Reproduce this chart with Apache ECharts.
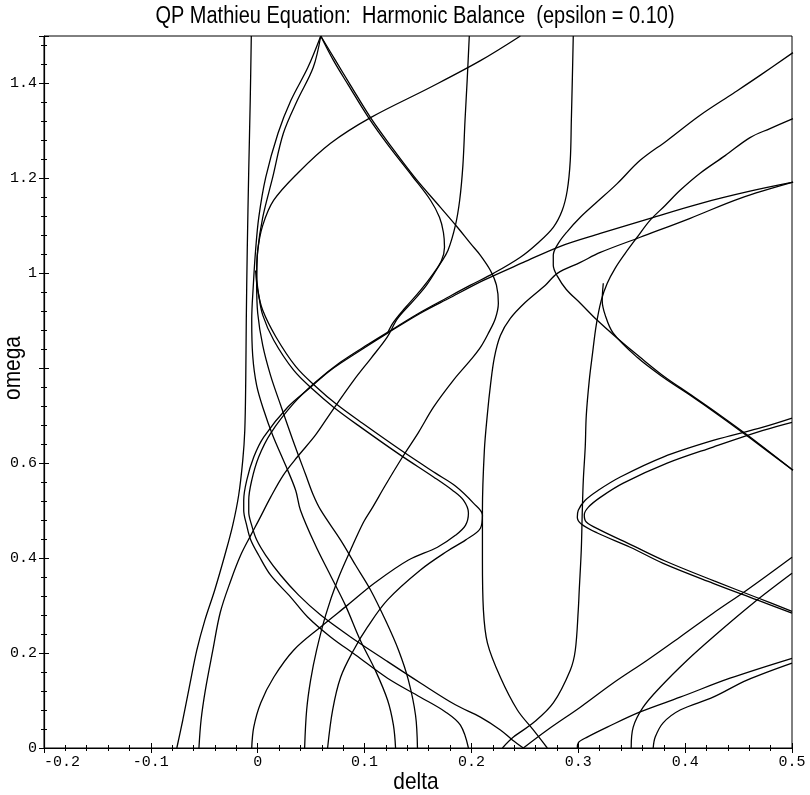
<!DOCTYPE html>
<html>
<head>
<meta charset="utf-8">
<title>QP Mathieu Equation: Harmonic Balance</title>
<script src="https://cdn.jsdelivr.net/npm/echarts/dist/echarts.min.js"></script>
<style>
  html, body { margin: 0; padding: 0; background: #fff; }
  #chart { width: 810px; height: 795px; }
</style>
</head>
<body>
<div id="chart"></div>
<script>
// Transition curves in the (delta, omega) plane, each as [delta, omega] pairs.
const deltaZeroBoundary = [[-0.006,1.5],[-0.007,1.364],[-0.0084,1.217],[-0.0098,1.048],[-0.0107,0.901],[-0.0112,0.775],[-0.0121,0.669],[-0.014,0.606],[-0.0178,0.533],[-0.0234,0.469],[-0.0308,0.406],[-0.0402,0.333],[-0.0495,0.269],[-0.057,0.206],[-0.0636,0.133],[-0.0701,0.059],[-0.0757,0]];
const quarterLowerBranch = [[0.198,1.5],[0.196,1.406],[0.194,1.322],[0.192,1.227],[0.189,1.154],[0.185,1.101],[0.178,1.048],[0.171,1.021],[0.158,0.975],[0.146,0.943],[0.131,0.905],[0.121,0.865],[0.106,0.821],[0.09,0.775],[0.068,0.705],[0.054,0.659],[0.037,0.613],[0.024,0.575],[0.012,0.528],[0.001,0.48],[-0.0065,0.448],[-0.016,0.406],[-0.025,0.354],[-0.035,0.286],[-0.042,0.206],[-0.049,0.122],[-0.053,0.059],[-0.055,0]];
const combA1 = [[0.059,1.5],[0.047,1.434],[0.031,1.364],[0.019,1.295],[0.0075,1.202],[0.001,1.118],[-0.002,1.048],[-0.004,0.979],[-0.0056,0.901],[-0.0047,0.827],[-0.001,0.764],[0.0056,0.712],[0.014,0.659],[0.026,0.596],[0.0355,0.543],[0.04,0.501],[0.054,0.427],[0.068,0.364],[0.082,0.301],[0.096,0.227],[0.11,0.164],[0.1215,0.101],[0.127,0.048],[0.129,0]];
const combA2 = [[0.059,1.5],[0.052,1.434],[0.037,1.364],[0.024,1.295],[0.014,1.202],[0.0047,1.118],[0,1.048],[-0.001,0.979],[0,0.916],[0.0047,0.848],[0.012,0.785],[0.0215,0.722],[0.033,0.648],[0.045,0.575],[0.052,0.533],[0.059,0.501],[0.0776,0.438],[0.0916,0.385],[0.1056,0.333],[0.1196,0.269],[0.1318,0.206],[0.141,0.143],[0.1477,0.069],[0.1495,0]];
const combB1 = [[0.2458,1.5],[0.2084,1.448],[0.1617,1.392],[0.1056,1.328],[0.0682,1.274],[0.0374,1.211],[0.015,1.154],[0.0047,1.101],[0,1.048],[-0.001,0.996],[0.001,0.954],[0.0047,0.912],[0.015,0.859],[0.0336,0.796],[0.0523,0.754],[0.071,0.718],[0.0963,0.676],[0.1336,0.617],[0.1645,0.571],[0.1822,0.543],[0.1925,0.522],[0.1972,0.495],[0.1944,0.469],[0.185,0.448],[0.1682,0.423],[0.1411,0.396],[0.1103,0.349],[0.0841,0.301],[0.0589,0.255],[0.0336,0.206],[0.015,0.149],[0.0028,0.095],[-0.0037,0.044],[-0.0056,0]];
const combB2 = [[-0.002,1.006],[0,0.964],[0.0047,0.922],[0.0168,0.867],[0.0355,0.804],[0.0551,0.76],[0.0738,0.724],[0.0981,0.684],[0.1355,0.625],[0.1664,0.579],[0.185,0.552],[0.2019,0.516],[0.2103,0.491],[0.2084,0.463],[0.1944,0.438],[0.1776,0.415],[0.1523,0.375],[0.1215,0.312],[0.1028,0.255],[0.0897,0.206],[0.0776,0.149],[0.0701,0.08],[0.0654,0]];
const combC1 = [[0.059,1.5],[0.0729,1.448],[0.0869,1.396],[0.1056,1.328],[0.1243,1.269],[0.1477,1.2],[0.171,1.139],[0.1869,1.097],[0.1991,1.063],[0.2084,1.038],[0.2178,1.006],[0.2234,0.975],[0.2252,0.937],[0.2224,0.905],[0.2159,0.874],[0.2084,0.844],[0.1991,0.817],[0.1832,0.775],[0.1645,0.718],[0.1505,0.665],[0.1355,0.613],[0.1196,0.554],[0.1075,0.507],[0.0991,0.476],[0.0869,0.417],[0.0748,0.354],[0.0636,0.28],[0.0551,0.206],[0.0495,0.143],[0.0458,0.08],[0.0439,0]];
const combC2 = [[0.059,1.5],[0.071,1.448],[0.085,1.396],[0.1037,1.328],[0.1224,1.269],[0.1449,1.204],[0.1617,1.154],[0.1701,1.118],[0.1738,1.086],[0.1748,1.055],[0.172,1.027],[0.1645,1.0],[0.1523,0.964],[0.1383,0.928],[0.1271,0.897],[0.1215,0.874]];
const halfNoseOuter = [[0.501,1.192],[0.4607,1.173],[0.414,1.147],[0.3673,1.116],[0.3206,1.084],[0.2832,1.057],[0.2486,1.023],[0.2112,0.985],[0.1804,0.949],[0.1523,0.916],[0.1215,0.874],[0.0963,0.838],[0.0682,0.796],[0.0495,0.76],[0.028,0.718],[0.0056,0.655],[-0.0037,0.613],[-0.0103,0.564],[-0.0131,0.522],[-0.0131,0.501],[-0.0103,0.469],[-0.0065,0.438],[0.0009,0.406],[0.0121,0.364],[0.0308,0.318],[0.0467,0.276],[0.0682,0.234],[0.0916,0.196],[0.1215,0.147],[0.1523,0.107],[0.1757,0.076],[0.1897,0.048],[0.1972,0]];
const halfNoseInner = [[0.2953,1.5],[0.2944,1.406],[0.2935,1.322],[0.2925,1.238],[0.2897,1.175],[0.285,1.133],[0.2766,1.097],[0.2617,1.063],[0.2458,1.034],[0.2206,1.0],[0.1991,0.975],[0.1776,0.949],[0.1523,0.918],[0.129,0.886],[0.1037,0.851],[0.0776,0.813],[0.0542,0.771],[0.0336,0.726],[0.0121,0.663],[0.0009,0.613],[-0.0056,0.564],[-0.0084,0.522],[-0.0084,0.497],[-0.0056,0.469],[-0.0009,0.438],[0.0075,0.406],[0.0215,0.364],[0.0383,0.322],[0.0589,0.28],[0.0869,0.234],[0.1196,0.185],[0.1523,0.137],[0.185,0.091],[0.2084,0.065],[0.2271,0.038],[0.2383,0.017],[0.2486,0]];
const quarterLeftWall = [[0.271,0],[0.2579,0.038],[0.243,0.08],[0.2271,0.149],[0.215,0.221],[0.2112,0.291],[0.2103,0.396],[0.2103,0.501],[0.2121,0.627],[0.215,0.705],[0.2178,0.764],[0.2215,0.823],[0.2271,0.869],[0.2364,0.905],[0.2505,0.939],[0.2692,0.975],[0.2804,1.0],[0.3019,1.023],[0.3206,1.044],[0.3579,1.076],[0.4047,1.116],[0.4514,1.158],[0.501,1.192]];
const omegaSqLower = [[0.5009,1.465],[0.4701,1.417],[0.4449,1.379],[0.414,1.333],[0.3832,1.28],[0.3579,1.238],[0.3364,1.189],[0.3159,1.147],[0.3019,1.118],[0.2897,1.088],[0.2813,1.063],[0.2766,1.038],[0.2766,1.017],[0.2804,0.994],[0.2888,0.966],[0.3019,0.937],[0.3178,0.901],[0.3346,0.867],[0.3579,0.823],[0.3813,0.781],[0.4047,0.745],[0.4327,0.701],[0.4607,0.655],[0.5009,0.585]];
const omegaSqBend = [[0.3234,0.979],[0.3224,0.943],[0.3252,0.912],[0.3327,0.874],[0.3551,0.823],[0.3794,0.781],[0.4047,0.743],[0.4327,0.699],[0.4607,0.653],[0.5009,0.585]];
const omegaSqUpper = [[0.5009,1.326],[0.4794,1.305],[0.4607,1.286],[0.4374,1.248],[0.414,1.211],[0.3953,1.175],[0.3813,1.143],[0.3673,1.112],[0.3551,1.076],[0.3439,1.042],[0.3346,1.011],[0.3271,0.979],[0.3215,0.943],[0.3168,0.891],[0.3131,0.827],[0.3103,0.775],[0.3075,0.701],[0.3065,0.634],[0.3047,0.564],[0.3037,0.495],[0.3028,0.417],[0.3009,0.333],[0.3,0.291],[0.2972,0.206],[0.2925,0.164],[0.2766,0.095],[0.2579,0.053],[0.2393,0.023],[0.229,0]];
const rightNoseOuter = [[0.5,0.695],[0.4729,0.676],[0.4262,0.648],[0.3794,0.613],[0.3393,0.571],[0.3187,0.543],[0.3065,0.522],[0.3,0.501],[0.2991,0.486],[0.3028,0.472],[0.3178,0.453],[0.3486,0.423],[0.3794,0.389],[0.4262,0.347],[0.4673,0.312],[0.5,0.284]];
const rightNoseInner = [[0.5,0.686],[0.4729,0.669],[0.4262,0.634],[0.3832,0.6],[0.3421,0.558],[0.3206,0.528],[0.3093,0.507],[0.3056,0.491],[0.3075,0.476],[0.3206,0.459],[0.3505,0.427],[0.3813,0.394],[0.4271,0.352],[0.4682,0.316],[0.5,0.288]];
const sumResonance = [[0.2486,0],[0.271,0.038],[0.3019,0.086],[0.3327,0.137],[0.3645,0.185],[0.3953,0.234],[0.4262,0.284],[0.4579,0.333],[0.5,0.402]];
const lowRight1 = [[0.2991,0],[0.3,0.011],[0.3084,0.023],[0.3271,0.044],[0.3579,0.076],[0.3953,0.107],[0.442,0.147],[0.5,0.189]];
const lowRight2 = [[0.3495,0],[0.3514,0.044],[0.3607,0.086],[0.3766,0.128],[0.4019,0.185],[0.4262,0.234],[0.4636,0.305],[0.5,0.368]];
const lowRight3 = [[0.3701,0],[0.372,0.023],[0.3794,0.053],[0.3953,0.08],[0.4262,0.107],[0.4579,0.143],[0.5,0.179]];

const curves = [
  deltaZeroBoundary, quarterLowerBranch, combA1, combA2, combB1, combB2,
  combC1, combC2, halfNoseOuter, halfNoseInner, quarterLeftWall,
  omegaSqLower, omegaSqBend, omegaSqUpper, rightNoseOuter, rightNoseInner,
  sumResonance, lowRight1, lowRight2, lowRight3
];

// Axis ranges and tick spacing
const deltaRange = [-0.2, 0.5];
const omegaRange = [0, 1.5];
const deltaStep = 0.1;
const omegaStep = 0.2;
// Major ticks on the omega axis that carry no number
const omegaUnlabelled = [0.8, 1.5];

const titleText = 'QP Mathieu Equation:  Harmonic Balance  (epsilon = 0.10)';
const xName = 'delta';
const yName = 'omega';

const chart = echarts.init(document.getElementById('chart'), null, { renderer: 'canvas' });

const tickFont = { fontFamily: '"Liberation Mono", "DejaVu Sans Mono", monospace', fontSize: 15, color: '#000' };
const fmt = v => String(+Number(v).toFixed(2));

const gridPos = { left: 44, right: 18, top: 36, bottom: 47 };

function xAxisDef(withLabels, inside) {
  return {
    type: 'value', min: deltaRange[0], max: deltaRange[1], interval: deltaStep,
    position: 'bottom',
    axisLine: { show: withLabels, onZero: false, lineStyle: { color: '#000', width: 1.2 } },
    axisTick: { show: true, inside: inside, length: 5, lineStyle: { color: '#000', width: 1 } },
    minorTick: { show: true, splitNumber: 5, length: 3, lineStyle: { color: '#000', width: 1 } },
    splitLine: { show: false },
    axisLabel: withLabels ? Object.assign({ show: true, margin: 7, formatter: fmt, alignMinLabel: 'left' }, tickFont) : { show: false }
  };
}
function yAxisDef(withLabels, inside) {
  return {
    type: 'value', min: omegaRange[0], max: omegaRange[1], interval: omegaStep,
    position: 'left',
    axisLine: { show: withLabels, onZero: false, lineStyle: { color: '#000', width: 1.2 } },
    axisTick: { show: true, inside: inside, length: 5, lineStyle: { color: '#000', width: 1 } },
    minorTick: { show: true, splitNumber: 5, length: 3, lineStyle: { color: '#000', width: 1 } },
    splitLine: { show: false },
    axisLabel: withLabels ? Object.assign({
      show: true, margin: 7,
      formatter: v => omegaUnlabelled.some(u => Math.abs(u - v) < 1e-9) ? '' : fmt(v)
    }, tickFont) : { show: false }
  };
}

const series = curves.map(pts => ({
  type: 'line',
  data: pts,
  xAxisIndex: 0,
  yAxisIndex: 0,
  showSymbol: false,
  symbol: 'none',
  smooth: 0.35,
  clip: true,
  silent: true,
  lineStyle: { color: '#000', width: 1.3 }
}));

const helv = '"Liberation Sans", Arial, Helvetica, sans-serif';

chart.setOption({
  animation: false,
  backgroundColor: '#fff',
  grid: Object.assign({ show: true, borderColor: '#000', borderWidth: 1, backgroundColor: 'transparent' }, gridPos),
  xAxis: [xAxisDef(true, false), xAxisDef(false, true)],
  yAxis: [yAxisDef(true, false), yAxisDef(false, true)],
  series: series,
  graphic: [
    { type: 'text', x: 415, y: 17, scaleX: 0.85, silent: true,
      style: { text: titleText, fontFamily: helv, fontSize: 23.5, fill: '#000', align: 'center', verticalAlign: 'middle' } },
    { type: 'text', x: 416, y: 782, scaleX: 0.87, silent: true,
      style: { text: xName, fontFamily: helv, fontSize: 24, fill: '#000', align: 'center', verticalAlign: 'middle' } },
    { type: 'text', x: 13, y: 368, rotation: Math.PI / 2, scaleX: 0.87, silent: true,
      style: { text: yName, fontFamily: helv, fontSize: 24, fill: '#000', align: 'center', verticalAlign: 'middle' } }
  ]
});
</script>
</body>
</html>
